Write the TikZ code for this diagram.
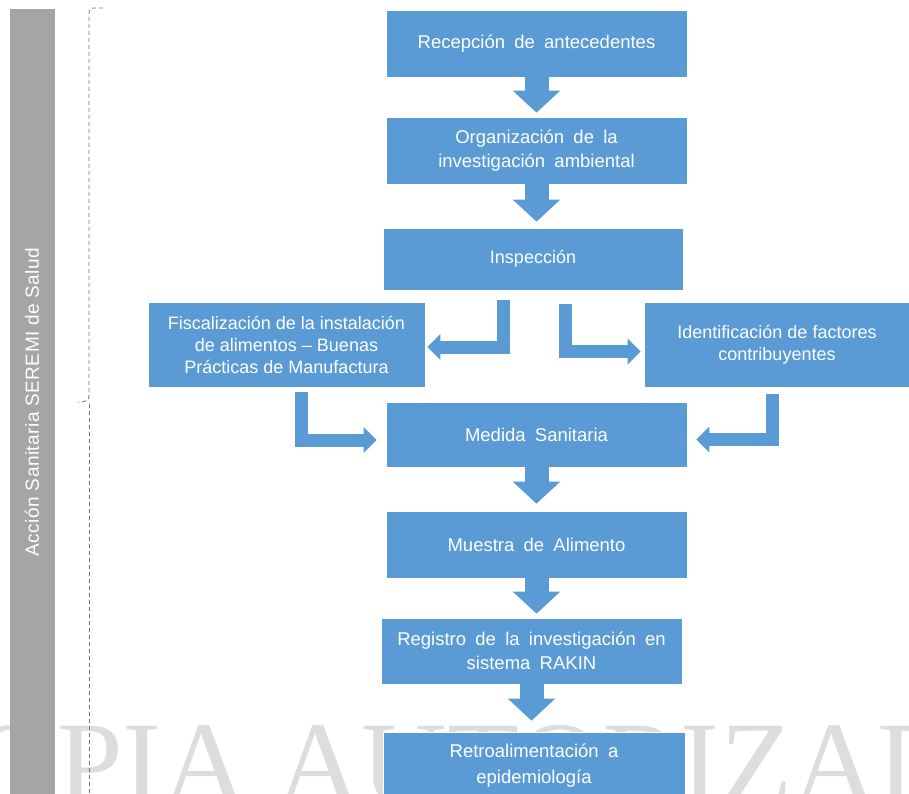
\documentclass[tikz,border=0pt]{standalone}
\usepackage{fontspec}
\setmainfont{Liberation Sans}
\newfontfamily\widefont[WordSpace=1.8]{Liberation Sans}
\newfontfamily\lanefont[LetterSpace=2.5]{Liberation Sans}
\newfontfamily\wmfont{Liberation Serif}
\usepackage{tikz}
\usetikzlibrary{arrows.meta,calc,positioning}

\definecolor{boxblue}{RGB}{91,155,213}
\definecolor{lanegray}{RGB}{165,165,165}
\definecolor{bracegray}{RGB}{118,118,118}
\definecolor{wmgray}{RGB}{221,221,221}

\tikzset{
  stepbox/.style={rectangle, fill=boxblue, draw=white, line width=0.6pt,
    text=white, font=\fontsize{18}{22}\selectfont, align=center, inner sep=0pt},
  widebox/.style={stepbox, font=\widefont\fontsize{18.5}{24}\selectfont},
  downarr/.style={draw=boxblue, line width=24pt, -{Triangle[width=46pt,length=22pt]}},
  bentarr/.style={draw=boxblue, line width=13pt, line join=miter, -{Triangle[width=25pt,length=13pt]}},
  lanebox/.style={rectangle, fill=lanegray, text=white, rotate=90, inner sep=0pt},
  bracket/.style={draw=bracegray, line width=0.8pt, dash pattern=on 4pt off 3pt},
}

\begin{document}
\begin{tikzpicture}[x=1pt,y=-1pt]
\clip (0,0) rectangle (909,793);
%%
% watermark
\node[anchor=base west, inner sep=0pt, text=wmgray, font=\wmfont\fontsize{118}{118}\selectfont] (wm) at (-107,803) {COPIA AUTORIZADA};
%%
% lane
\node[lanebox, minimum width=800pt, minimum height=45pt] (lane) at (32.5,409) {};
\node[text=white, rotate=90, font=\lanefont\fontsize{19}{22}\selectfont] (lanetxt) at (32,402) {Acción Sanitaria SEREMI de Salud};
% bracket
\draw[bracket] (103,8) -- (94,8) .. controls (90,8) and (89,10) .. (89,14) -- (89,396)
  .. controls (89,400) and (86,402) .. (78,402);
\draw[bracket] (89,404) -- (89,793);
%%
% steps
\node[widebox, minimum width=301pt, minimum height=67pt] (rec) at (536.5,43.5) {Recepción de antecedentes};
\node[widebox, minimum width=301pt, minimum height=67pt] (org) at (536.5,150.5) {Organización de la\\investigación ambiental};
\node[stepbox, minimum width=300pt, minimum height=62pt] (insp) at (533,259) {Inspección};
\node[stepbox, minimum width=277pt, minimum height=85pt] (fisc) at (286.5,344.5) {Fiscalización de la instalación\\de alimentos -- Buenas\\Prácticas de Manufactura};
\node[stepbox, minimum width=266pt, minimum height=85pt] (iden) at (777,344.5) {Identificación de factores\\contribuyentes};
\node[widebox, minimum width=301pt, minimum height=65pt] (med) at (536.5,434.5) {Medida Sanitaria};
\node[widebox, minimum width=301pt, minimum height=67pt] (mue) at (536.5,544.5) {Muestra de Alimento};
\node[widebox, minimum width=301pt, minimum height=66pt] (reg) at (531.5,651) {Registro de la investigación en\\sistema RAKIN};
\node[widebox, minimum width=302pt, minimum height=68pt, font=\widefont\fontsize{18.5}{26}\selectfont] (ret) at (534,766) {Retroalimentación a\\epidemiología};
%%
% straight arrows
\draw[downarr] (rec.south) -- ([yshift=4pt]org.north);
\draw[downarr] (org.south) -- ([yshift=6pt]org.south |- insp.north);
\draw[downarr] (med.south) -- ([yshift=7pt]mue.north);
\draw[downarr] (mue.south) -- ([yshift=4pt]mue.south |- reg.north);
\draw[downarr] (reg.south) -- ([yshift=11pt]reg.south |- ret.north);
% bent arrows
\draw[bentarr] ([xshift=-30pt,yshift=-10pt]insp.south) |- ([xshift=2pt,yshift=-2.5pt]fisc.east);
\draw[bentarr] ([xshift=32pt,yshift=-14pt]insp.south) |- ([xshift=-3pt,yshift=-7pt]iden.west);
\draw[bentarr] ([xshift=15pt,yshift=-5pt]fisc.south) |- ([xshift=-9pt,yshift=-5.5pt]med.west);
\draw[bentarr] ([xshift=-4.5pt,yshift=-7pt]iden.south) |- ([xshift=9pt,yshift=-5pt]med.east);
%
\end{tikzpicture}
\end{document}
